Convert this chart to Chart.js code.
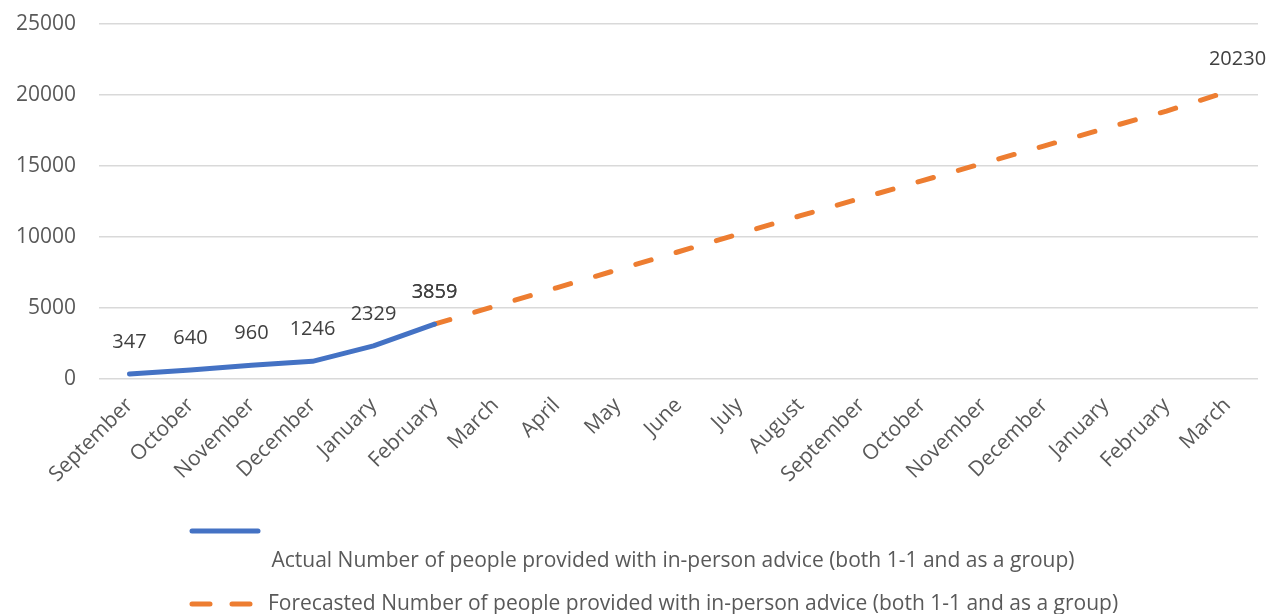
<!DOCTYPE html>
<html>
<head>
<meta charset="utf-8">
<script src="https://cdn.jsdelivr.net/npm/chart.js@4/dist/chart.umd.min.js"></script>
<style>
  html, body { margin: 0; padding: 0; background: #ffffff; }
  #wrap { position: relative; width: 1271px; height: 614px; }
</style>
</head>
<body>
<div id="wrap"><canvas id="c" width="1271" height="614"></canvas></div>
<script>
// Months along the x axis (September through the following March, 19 months)
const months = ['September', 'October', 'November', 'December', 'January', 'February',
  'March', 'April', 'May', 'June', 'July', 'August', 'September', 'October',
  'November', 'December', 'January', 'February', 'March'];

// Actual people helped, September to February
const actualValues = [347, 640, 960, 1246, 2329, 3859];

// Forecast, starting from the last actual month (February) to the final March
const forecastStart = 5;
const forecastValues = [3859, 5140, 6420, 7690, 8960, 10230, 11500, 12740, 13970,
  15200, 16420, 17650, 18870, 20230];

// Y axis ticks
const yTicks = [0, 5000, 10000, 15000, 20000, 25000];

const seriesNames = [
  'Actual Number of people provided with in-person advice (both 1-1 and as a group)',
  'Forecasted Number of people provided with in-person advice (both 1-1 and as a group)'
];

const BLUE = '#4472C4';
const ORANGE = '#ED7D31';
const FONT = "'Open Sans', sans-serif";

const forecastData = Array(forecastStart).fill(null).concat(forecastValues);

// Which points carry a value label
const labelled = [
  actualValues.map(() => true),
  forecastData.map((v, i) => i === forecastStart || i === forecastData.length - 1)
];

const valueLabels = {
  id: 'valueLabels',
  afterDatasetsDraw(chart) {
    const ctx = chart.ctx;
    ctx.save();
    ctx.font = '20px ' + FONT;
    ctx.fillStyle = '#404040';
    ctx.textAlign = 'center';
    ctx.textBaseline = 'middle';
    chart.data.datasets.forEach((ds, di) => {
      const meta = chart.getDatasetMeta(di);
      const last = meta.data.length - 1;
      meta.data.forEach((pt, i) => {
        const v = ds.data[i];
        if (v === null || !labelled[di][i]) return;
        // the end label sits a little to the right of its point
        const dx = (di === 1 && i === last) ? 10 : 0;
        ctx.fillText(String(v), pt.x + dx, pt.y - 32);
      });
    });
    ctx.restore();
  }
};

const bottomLegend = {
  id: 'bottomLegend',
  afterDraw(chart) {
    const ctx = chart.ctx;
    ctx.save();
    ctx.lineWidth = 5;
    ctx.lineCap = 'round';
    // first entry: solid blue sample, text centred on the row below
    ctx.strokeStyle = BLUE;
    ctx.beginPath();
    ctx.moveTo(192, 531);
    ctx.lineTo(258, 531);
    ctx.stroke();
    ctx.font = '21px ' + FONT;
    ctx.fillStyle = '#595959';
    ctx.textBaseline = 'middle';
    ctx.textAlign = 'center';
    ctx.fillText(seriesNames[0], 673, 561);
    // second entry: dashed orange sample with text to its right
    ctx.strokeStyle = ORANGE;
    ctx.setLineDash([18, 22]);
    ctx.beginPath();
    ctx.moveTo(192, 604);
    ctx.lineTo(254, 604);
    ctx.stroke();
    ctx.setLineDash([]);
    ctx.textAlign = 'left';
    ctx.fillText(seriesNames[1], 268, 604);
    ctx.restore();
  }
};

new Chart(document.getElementById('c'), {
  type: 'line',
  data: {
    labels: months,
    datasets: [
      {
        label: seriesNames[0],
        data: actualValues,
        borderColor: BLUE,
        borderWidth: 5,
        borderCapStyle: 'round',
        borderJoinStyle: 'round',
        pointRadius: 0,
        tension: 0,
        fill: false
      },
      {
        label: seriesNames[1],
        data: forecastData,
        borderColor: ORANGE,
        borderWidth: 5,
        borderDash: [16, 26],
        borderCapStyle: 'round',
        pointRadius: 0,
        tension: 0,
        fill: false
      }
    ]
  },
  options: {
    responsive: false,
    animation: false,
    events: [],
    layout: { autoPadding: false, padding: { top: 24, right: 13, bottom: 0, left: 0 } },
    plugins: { legend: { display: false }, tooltip: { enabled: false } },
    scales: {
      x: {
        offset: true,
        grid: { display: false, drawTicks: false },
        border: { display: false },
        ticks: {
          color: '#595959',
          font: { family: FONT, size: 21 },
          minRotation: 45,
          maxRotation: 45,
          autoSkip: false,
          padding: 14
        },
        afterFit(s) {
          s.height = 235;
          s.paddingLeft = 0; s.paddingRight = 0;
        }
      },
      y: {
        min: 0,
        max: 25000,
        afterBuildTicks(s) { s.ticks = yTicks.map(v => ({ value: v })); },
        grid: { color: '#d9d9d9', lineWidth: 1.5, drawTicks: false },
        border: { display: false },
        ticks: {
          color: '#595959',
          font: { family: FONT, size: 21 },
          padding: 23,
          callback: v => String(v)
        },
        afterFit(s) {
          s.width = 99;
          s.paddingTop = 0; s.paddingBottom = 0;
        }
      }
    }
  },
  plugins: [valueLabels, bottomLegend]
});
</script>
</body>
</html>
